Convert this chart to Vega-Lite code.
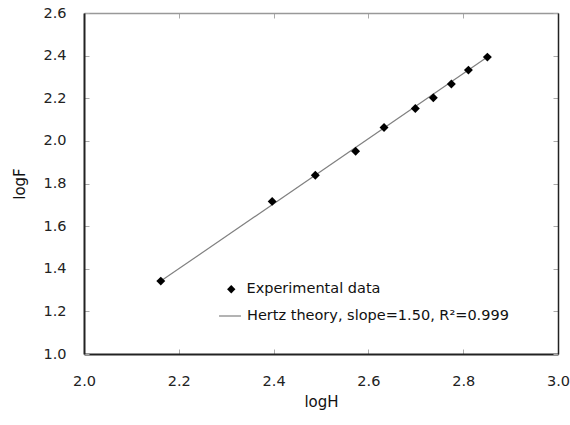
{
  "$schema": "https://vega.github.io/schema/vega-lite/v6.json",
  "width": 474,
  "height": 341,
  "autosize": {"type": "none"},
  "padding": {"left": 84, "top": 13, "right": 12, "bottom": 71},
  "background": "white",
  "config": {
    "font": "DejaVu Sans",
    "view": {"stroke": null},
    "axis": {
      "grid": false,
      "labelFontSize": 14.5,
      "labelColor": "#222222",
      "labelFlush": false,
      "titleFontSize": 15,
      "titleFontWeight": "normal",
      "titleColor": "#111111",
      "tickColor": "#aaaaaa",
      "tickSize": -5,
      "tickWidth": 1
    },
    "legend": {"padding": 0, "labelFontSize": 14.5, "labelColor": "#111111", "labelLimit": 400, "title": null}
  },
  "layer": [
    {
      "data": {"values": [
        {"logH": 2.162, "logF": 1.342},
        {"logH": 2.851, "logF": 2.393}
      ]},
      "mark": {"type": "line", "strokeWidth": 1.2},
      "encoding": {
        "x": {"field": "logH", "type": "quantitative", "scale": {"domain": [2, 3], "nice": false},
          "axis": {"orient": "bottom", "title": "logH", "values": [2, 2.2, 2.4, 2.6, 2.8, 3], "format": ".1f",
            "domainColor": "#222222", "domainWidth": 2, "labelPadding": 25, "titlePadding": 7}},
        "y": {"field": "logF", "type": "quantitative", "scale": {"domain": [1, 2.6], "nice": false},
          "axis": {"orient": "left", "title": "logF", "values": [1, 1.2, 1.4, 1.6, 1.8, 2, 2.2, 2.4, 2.6], "format": ".1f",
            "domainColor": "#222222", "domainWidth": 2, "labelPadding": 23, "titlePadding": 15}},
        "color": {"datum": "Hertz theory, slope=1.50, R²=0.999", "type": "nominal",
          "scale": {"range": ["#808080"]},
          "legend": {"orient": "none", "legendX": 134, "legendY": 291, "symbolSize": 480, "symbolStrokeWidth": 1.2, "labelOffset": 5}}
      }
    },
    {
      "data": {"values": [
        {"logH": 2.162, "logF": 1.342},
        {"logH": 2.397, "logF": 1.716},
        {"logH": 2.488, "logF": 1.839},
        {"logH": 2.573, "logF": 1.951},
        {"logH": 2.633, "logF": 2.063},
        {"logH": 2.699, "logF": 2.152},
        {"logH": 2.737, "logF": 2.202},
        {"logH": 2.775, "logF": 2.267},
        {"logH": 2.811, "logF": 2.332},
        {"logH": 2.851, "logF": 2.393}
      ]},
      "mark": {"type": "point", "filled": true, "color": "black", "size": 80, "opacity": 1},
      "encoding": {
        "x": {"field": "logH", "type": "quantitative", "scale": {"domain": [2, 3], "nice": false},
          "axis": {"orient": "top", "title": null, "labels": false, "values": [2, 2.2, 2.4, 2.6, 2.8, 3],
            "domainColor": "#999999", "domainWidth": 1.5}},
        "y": {"field": "logF", "type": "quantitative", "scale": {"domain": [1, 2.6], "nice": false},
          "axis": {"orient": "right", "title": null, "labels": false, "values": [1, 1.2, 1.4, 1.6, 1.8, 2, 2.2, 2.4, 2.6],
            "domainColor": "#222222", "domainWidth": 1.5}},
        "shape": {"datum": "Experimental data", "type": "nominal",
          "scale": {"range": ["diamond"]},
          "legend": {"orient": "none", "legendX": 140, "legendY": 269, "symbolSize": 70, "symbolFillColor": "black", "labelOffset": 8}}
      }
    }
  ],
  "resolve": {"axis": {"x": "independent", "y": "independent"}}
}
